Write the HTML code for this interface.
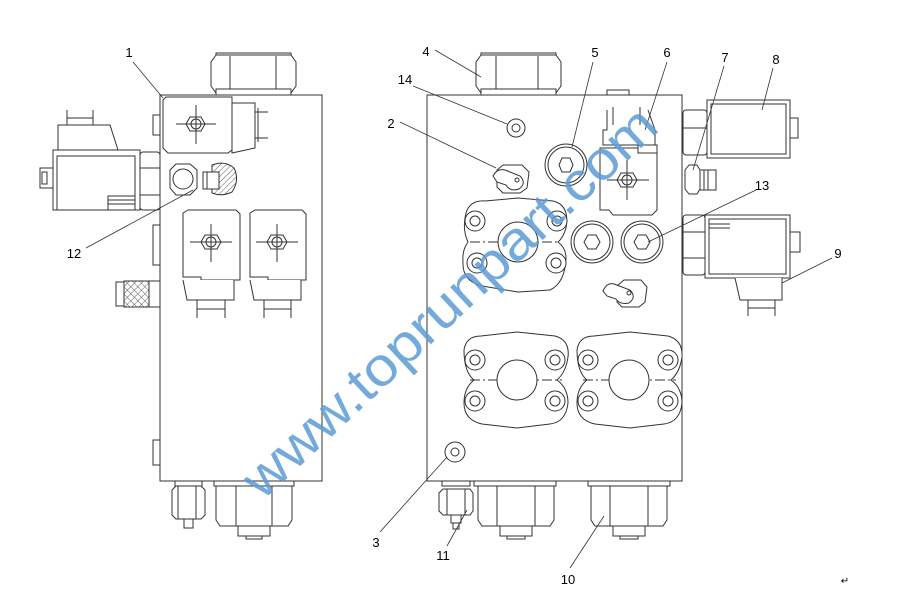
<!DOCTYPE html>
<html><head><meta charset="utf-8"><style>
html,body{margin:0;padding:0;background:#fff;}
svg{display:block;font-family:"Liberation Sans",sans-serif;}
</style></head><body>
<svg width="908" height="594" viewBox="0 0 908 594" xmlns="http://www.w3.org/2000/svg">
<defs>
<pattern id="hatch" width="4" height="4" patternUnits="userSpaceOnUse" patternTransform="rotate(45)"><line x1="0" y1="0" x2="0" y2="4" stroke="#333" stroke-width="0.8"/></pattern>
<pattern id="knurl" width="5" height="5" patternUnits="userSpaceOnUse" patternTransform="rotate(45)"><path d="M0 0H5M0 0V5" stroke="#333" stroke-width="0.8" fill="none"/></pattern>
</defs>
<g fill="#fff" stroke="#333" stroke-width="1">
<!-- LEFT BLOCK -->
<rect x="160" y="95" width="162" height="386"/>
<rect x="153" y="115" width="7" height="20"/><rect x="153" y="225" width="7" height="40"/><rect x="153" y="440" width="7" height="25"/>
<rect x="216" y="53" width="75" height="4"/>
<path d="M211 62 L216 55 H291 L296 62 V86 L291 93 H216 L211 86Z"/>
<line x1="230" y1="56" x2="230" y2="92"/><line x1="276" y1="56" x2="276" y2="92"/>
<rect x="216" y="89" width="75" height="6"/>
<!-- top solenoid -->
<path d="M163 100 L166 97 H232 V150 L228 153 H168 L163 148Z"/>
<path d="M232 103 H255 V148 L232 153Z"/>
<line x1="255" y1="112" x2="268" y2="112"/><line x1="255" y1="138" x2="268" y2="138"/><line x1="258" y1="108" x2="258" y2="142"/>
<path d="M186 124 L190 117 H201 L205 124 L201 131 H190Z"/><circle cx="196" cy="124" r="5"/>
<line x1="176" y1="124" x2="216" y2="124"/><line x1="196" y1="105" x2="196" y2="144"/>
<!-- left solenoid -->
<path d="M58 150 V125 H110 L118 150"/>
<line x1="67" y1="110" x2="67" y2="125"/><line x1="93" y1="110" x2="93" y2="125"/><line x1="67" y1="118" x2="93" y2="118"/>
<rect x="53" y="150" width="87" height="60"/>
<rect x="57" y="156" width="78" height="54"/>
<rect x="108" y="196" width="27" height="14"/>
<line x1="108" y1="200" x2="135" y2="200"/><line x1="108" y1="204" x2="135" y2="204"/>
<rect x="140" y="152" width="20" height="58" rx="3"/>
<line x1="140" y1="168" x2="160" y2="168"/><line x1="140" y1="195" x2="160" y2="195"/>
<rect x="40" y="168" width="13" height="20"/><rect x="42" y="172" width="5" height="12"/>
<!-- small hex + hatched -->
<path d="M170 170 L176 164 H190 L197 170 V188 L190 195 H176 L170 188Z"/>
<circle cx="183" cy="179" r="10"/>
<path d="M212 165 Q225 160 234 168 Q240 180 232 192 Q222 197 212 193Z" fill="url(#hatch)"/>
<rect x="203" y="172" width="16" height="17" fill="#fff"/><line x1="207" y1="172" x2="207" y2="189"/>
<!-- two solenoids -->
<path d="M183 213 L188 210 H236 L240 214 V280 H201 V277 H183Z"/>
<path d="M183 280 L187 300 H234 V280"/><line x1="197" y1="300" x2="197" y2="318"/><line x1="225" y1="300" x2="225" y2="318"/><line x1="197" y1="309" x2="225" y2="309"/>
<path d="M250 213 L255 210 H302 L306 214 V280 H268 V277 H250Z"/>
<path d="M250 280 L254 300 H301 V280"/><line x1="264" y1="300" x2="264" y2="318"/><line x1="291" y1="300" x2="291" y2="318"/><line x1="264" y1="309" x2="291" y2="309"/>
<path d="M201 242 L205 235 H217 L221 242 L217 249 H205Z"/><circle cx="211" cy="242" r="5"/>
<line x1="190" y1="242" x2="232" y2="242"/><line x1="211" y1="224" x2="211" y2="262"/>
<path d="M267 242 L271 235 H283 L287 242 L283 249 H271Z"/><circle cx="277" cy="242" r="5"/>
<line x1="256" y1="242" x2="298" y2="242"/><line x1="277" y1="224" x2="277" y2="262"/>
<!-- knurled -->
<rect x="116" y="282" width="8" height="24"/>
<rect x="124" y="281" width="25" height="26" fill="url(#knurl)"/>
<rect x="149" y="281" width="11" height="26"/>
<!-- bottom -->
<rect x="175" y="481" width="27" height="5"/>
<path d="M172 490 L176 486 H201 L205 490 V515 L201 519 H176 L172 515Z"/><line x1="178" y1="486" x2="178" y2="519"/><line x1="196" y1="486" x2="196" y2="519"/>
<rect x="184" y="519" width="9" height="9"/>
<rect x="214" y="481" width="80" height="5"/>
<path d="M216 486 H292 V520 L288 526 H220 L216 520Z"/><line x1="236" y1="486" x2="236" y2="526"/><line x1="272" y1="486" x2="272" y2="526"/>
<rect x="238" y="526" width="32" height="10"/><rect x="246" y="536" width="16" height="3"/>

<!-- RIGHT BLOCK -->
<rect x="427" y="95" width="255" height="386"/>
<rect x="607" y="90" width="22" height="5"/>
<rect x="481" y="53" width="75" height="4"/>
<path d="M476 62 L481 55 H556 L561 62 V86 L556 93 H481 L476 86Z"/>
<line x1="496" y1="56" x2="496" y2="92"/><line x1="538" y1="56" x2="538" y2="92"/>
<rect x="481" y="89" width="75" height="6"/>
<circle cx="516" cy="128" r="9"/><circle cx="516" cy="128" r="4"/>
<!-- fitting 2 -->
<path d="M497 170 L503 165 H522 L529 172 L527 188 L520 193 H503 L497 187Z"/>
<path d="M493 176 Q497 168 505 170 L520 176 Q527 183 519 189 Q510 192 506 185 L497 182Z"/><circle cx="517" cy="180" r="2"/>
<!-- 5 -->
<circle cx="566" cy="165" r="21"/><circle cx="566" cy="165" r="18"/>
<path d="M559 165 L562 158 H570 L573 165 L570 172 H562Z"/>
<!-- 6 -->
<path d="M607 110 V130 H603 V145 H655 V130 L648 110"/><line x1="613" y1="107" x2="613" y2="125"/><line x1="640" y1="107" x2="640" y2="125"/>
<path d="M600 148 H657 V210 L652 215 H613 L609 210 H600Z"/><rect x="638" y="145" width="19" height="8"/>
<path d="M617 180 L621 173 H633 L637 180 L633 187 H621Z"/><circle cx="627" cy="180" r="5"/>
<line x1="607" y1="180" x2="649" y2="180"/><line x1="627" y1="160" x2="627" y2="200"/>
<!-- 8 -->
<rect x="683" y="110" width="24" height="45" rx="3"/><line x1="683" y1="128" x2="707" y2="128"/>
<rect x="707" y="100" width="83" height="58"/><rect x="711" y="104" width="75" height="50"/>
<rect x="790" y="118" width="8" height="20"/>
<!-- 7 -->
<path d="M685 170 L689 165 H697 L700 170 V189 L697 194 H689 L685 189Z"/><rect x="700" y="170" width="16" height="20"/>
<line x1="704" y1="170" x2="704" y2="190"/><line x1="708" y1="170" x2="708" y2="190"/>
<!-- 9 -->
<rect x="683" y="215" width="22" height="60" rx="3"/><line x1="683" y1="232" x2="705" y2="232"/><line x1="683" y1="258" x2="705" y2="258"/>
<rect x="705" y="215" width="85" height="63"/><rect x="709" y="219" width="77" height="55"/>
<line x1="709" y1="224" x2="730" y2="224"/><line x1="709" y1="228" x2="730" y2="228"/>
<rect x="790" y="232" width="10" height="20"/>
<path d="M735 278 L740 300 H782 V278"/><line x1="748" y1="300" x2="748" y2="316"/><line x1="775" y1="300" x2="775" y2="316"/><line x1="748" y1="308" x2="775" y2="308"/>
<!-- upper flange -->
<path d="M466 213 Q470 200 485 201 L518 198 L553 201 Q570 205 566 228 Q563 238 558 242 Q566 248 566 258 Q565 283 550 290 L518 292 L482 286 Q462 281 463 262 Q462 250 468 242 Q462 230 466 213Z"/>
<line x1="470" y1="242" x2="560" y2="242" stroke-dasharray="10 3 2 3"/>
<circle cx="518" cy="242" r="20"/>
<circle cx="475" cy="221" r="10"/><circle cx="475" cy="221" r="5"/>
<circle cx="557" cy="221" r="10"/><circle cx="557" cy="221" r="5"/>
<circle cx="477" cy="263" r="10"/><circle cx="477" cy="263" r="5"/>
<circle cx="556" cy="263" r="10"/><circle cx="556" cy="263" r="5"/>
<circle cx="592" cy="242" r="21"/><circle cx="592" cy="242" r="18"/><path d="M584 242 L588 235 H596 L600 242 L596 249 H588Z"/>
<circle cx="642" cy="242" r="21"/><circle cx="642" cy="242" r="18"/><path d="M634 242 L638 235 H646 L650 242 L646 249 H638Z"/>
<!-- fitting 13 lower -->
<path d="M618 285 L624 280 H641 L647 287 L645 302 L639 307 H622 L617 302Z"/>
<path d="M603 291 Q607 282 614 284 L630 290 Q637 297 629 303 Q620 305 616 299 L607 296Z"/><circle cx="629" cy="293" r="2"/>
<!-- lower flanges -->
<path d="M464 350 Q466 336 481 336 L517 332 L555 336 Q570 340 568 357 Q566 372 557 380 Q568 388 568 403 Q566 422 550 424 L517 428 L482 424 Q464 420 464 403 Q464 388 474 380 Q464 372 464 350Z"/>
<line x1="470" y1="380" x2="562" y2="380" stroke-dasharray="10 3 2 3"/>
<circle cx="517" cy="380" r="20"/>
<circle cx="475" cy="360" r="10"/><circle cx="475" cy="360" r="5"/>
<circle cx="555" cy="360" r="10"/><circle cx="555" cy="360" r="5"/>
<circle cx="475" cy="401" r="10"/><circle cx="475" cy="401" r="5"/>
<circle cx="555" cy="401" r="10"/><circle cx="555" cy="401" r="5"/>
<path d="M577 350 Q579 336 594 336 L630 332 L668 336 Q683 340 682 357 Q680 372 671 380 Q682 388 682 403 Q680 422 664 424 L630 428 L595 424 Q577 420 577 403 Q577 388 587 380 Q577 372 577 350Z"/>
<line x1="583" y1="380" x2="676" y2="380" stroke-dasharray="10 3 2 3"/>
<circle cx="629" cy="380" r="20"/>
<circle cx="588" cy="360" r="10"/><circle cx="588" cy="360" r="5"/>
<circle cx="668" cy="360" r="10"/><circle cx="668" cy="360" r="5"/>
<circle cx="588" cy="401" r="10"/><circle cx="588" cy="401" r="5"/>
<circle cx="668" cy="401" r="10"/><circle cx="668" cy="401" r="5"/>
<circle cx="455" cy="452" r="10"/><circle cx="455" cy="452" r="4"/>
<!-- bottom right -->
<rect x="442" y="481" width="28" height="5"/>
<path d="M439 493 L443 489 H470 L473 493 V511 L470 515 H443 L439 511Z"/><line x1="447" y1="489" x2="447" y2="515"/><line x1="465" y1="489" x2="465" y2="515"/>
<rect x="451" y="515" width="10" height="8"/><rect x="453" y="523" width="6" height="6"/>
<rect x="474" y="481" width="82" height="5"/>
<path d="M478 486 H554 V520 L550 526 H482 L478 520Z"/><line x1="497" y1="486" x2="497" y2="526"/><line x1="535" y1="486" x2="535" y2="526"/>
<rect x="500" y="526" width="32" height="10"/><rect x="507" y="536" width="18" height="3"/>
<rect x="588" y="481" width="82" height="5"/>
<path d="M591 486 H667 V520 L663 526 H595 L591 520Z"/><line x1="610" y1="486" x2="610" y2="526"/><line x1="648" y1="486" x2="648" y2="526"/>
<rect x="613" y="526" width="32" height="10"/><rect x="620" y="536" width="18" height="3"/>
</g>
<!-- leader lines -->
<g stroke="#333" stroke-width="0.8" fill="none">
<line x1="133" y1="62" x2="163" y2="98"/>
<line x1="86" y1="248" x2="193" y2="190"/>
<line x1="435" y1="50" x2="481" y2="77"/>
<line x1="413" y1="86" x2="507" y2="124"/>
<line x1="400" y1="122" x2="496" y2="168"/>
<line x1="593" y1="62" x2="572" y2="147"/>
<line x1="667" y1="62" x2="645" y2="130"/>
<line x1="724" y1="66" x2="693" y2="170"/>
<line x1="773" y1="68" x2="762" y2="110"/>
<line x1="756" y1="190" x2="648" y2="242"/>
<line x1="832" y1="258" x2="782" y2="283"/>
<line x1="380" y1="532" x2="447" y2="457"/>
<line x1="447" y1="546" x2="467" y2="510"/>
<line x1="570" y1="568" x2="604" y2="516"/>
</g>
<g font-size="13" fill="#000" text-anchor="middle">
<text x="129" y="57">1</text><text x="74" y="258">12</text>
<text x="426" y="56">4</text><text x="405" y="84">14</text><text x="391" y="128">2</text>
<text x="595" y="57">5</text><text x="667" y="57">6</text><text x="725" y="62">7</text><text x="776" y="64">8</text>
<text x="762" y="190">13</text><text x="838" y="258">9</text>
<text x="376" y="547">3</text><text x="443" y="560">11</text><text x="568" y="584">10</text>
<text x="845" y="584" font-size="10">↵</text>
</g>
<text x="452" y="305" font-size="54" fill="#5b9bd5" fill-opacity="0.85" text-anchor="middle" dominant-baseline="middle" textLength="545" lengthAdjust="spacingAndGlyphs" transform="rotate(-43 452 305)">www.toprunpart.com</text>
</svg>
</body></html>
